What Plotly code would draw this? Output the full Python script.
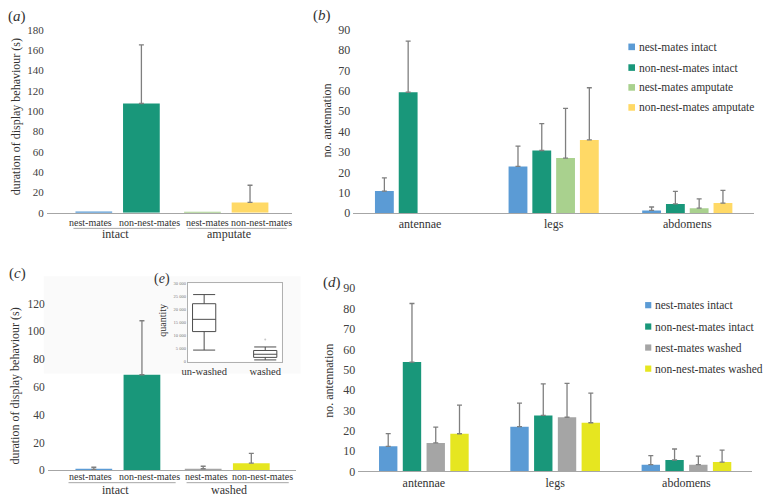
import plotly.graph_objects as go

W, H = 764, 503


def px(x):
    return x / W


def py(y):
    return 1 - y / H


FONT = "Liberation Serif"
TXT = "#333333"
TICK = "#404040"
AXLINE = "#a6a6a6"
ERRC = "#7f7f7f"

# ---------------- data ----------------
# (a) duration of display behaviour, intact vs amputate
a_groups = ["intact", "amputate"]
a_series = ["nest-mates", "non-nest-mates"]
a_nest_mean = [1.4, 0.9]
a_nest_err = [0.0, 0.0]
a_non_mean = [107.4, 10.2]
a_non_err = [57.6, 16.9]
a_yticks = [0, 20, 40, 60, 80, 100, 120, 140, 160, 180]

# (c) duration of display behaviour, intact vs washed
c_groups = ["intact", "washed"]
c_series = ["nest-mates", "non-nest-mates"]
c_nest_mean = [0.8, 1.2]
c_nest_err = [1.5, 1.8]
c_non_mean = [68.8, 5.2]
c_non_err = [38.8, 7.0]
c_yticks = [0, 20, 40, 60, 80, 100, 120]

# (b) number of antennation, intact vs amputate
parts = ["antennae", "legs", "abdomens"]
b_names = ["nest-mates intact", "non-nest-mates intact",
           "nest-mates amputate", "non-nest-mates amputate"]
b_nm_intact = [10.8, 22.9, 1.3]
b_nm_intact_err = [6.5, 10.0, 1.7]
b_nnm_intact = [59.3, 30.7, 4.5]
b_nnm_intact_err = [25.1, 13.2, 6.2]
b_nm_amput = [None, 27.0, 2.4]
b_nm_amput_err = [0, 24.4, 4.6]
b_nnm_amput = [None, 35.9, 4.9]
b_nnm_amput_err = [0, 25.6, 6.2]
bd_yticks = [0, 10, 20, 30, 40, 50, 60, 70, 80, 90]

# (d) number of antennation, intact vs washed
d_names = ["nest-mates intact", "non-nest-mates intact",
           "nest-mates washed", "non-nest-mates washed"]
d_nm_intact = [12.3, 22.0, 3.3]
d_nm_intact_err = [6.3, 11.6, 4.5]
d_nnm_intact = [53.7, 27.5, 5.6]
d_nnm_intact_err = [28.8, 15.5, 5.4]
d_nm_washed = [14.0, 26.6, 3.3]
d_nm_washed_err = [7.8, 16.7, 4.2]
d_nnm_washed = [18.5, 23.9, 4.6]
d_nnm_washed_err = [14.1, 14.6, 5.9]

# (e) quantity, box plot statistics
e_groups = ["un-washed", "washed"]
e_low = [4400, 630]
e_q1 = [11500, 1600]
e_median = [16200, 2800]
e_q3 = [22200, 4250]
e_high = [25700, 5600]
e_outlier_x = ["washed"]
e_outlier_y = [8500]
e_yticks = [0, 5000, 10000, 15000, 20000, 25000, 30000]
e_yticklabels = ["0", "5 000", "10 000", "15 000", "20 000", "25 000", "30 000"]

# ---------------- styles ----------------
BLUE = "#5b9bd5"
GREEN = "#19977a"
LGREEN = "#a9d18e"
YELLOW = "#ffd966"
GRAY = "#a5a5a5"
YELLOW2 = "#e6e620"

fig = go.Figure()


def add_bars(x, means, errs, colors, n_idx, n_tot, slot, width, xa, ya, name):
    center = (n_idx - (n_tot - 1) / 2) * slot
    fig.add_trace(go.Bar(
        x=x, y=means, name=name, showlegend=False,
        marker=dict(color=colors, line=dict(width=0)),
        offset=center - width / 2, width=width,
        error_y=dict(type="data", array=errs, arrayminus=[0] * len(errs),
                     symmetric=False, color=ERRC, thickness=1.3, width=2.5,
                     visible=any((e or 0) > 0 for e in errs)),
        xaxis=xa, yaxis=ya,
    ))


# (a)
add_bars(a_groups, a_nest_mean, a_nest_err, [BLUE, LGREEN], 0, 2, 0.438, 0.338, "x", "y", a_series[0])
add_bars(a_groups, a_non_mean, a_non_err, [GREEN, YELLOW], 1, 2, 0.438, 0.338, "x", "y", a_series[1])

# (b)
b_means = [b_nm_intact, b_nnm_intact, b_nm_amput, b_nnm_amput]
b_errs = [b_nm_intact_err, b_nnm_intact_err, b_nm_amput_err, b_nnm_amput_err]
b_colors = [BLUE, GREEN, LGREEN, YELLOW]
for i in range(4):
    add_bars(parts, b_means[i], b_errs[i], b_colors[i], i, 4, 0.178, 0.141, "x2", "y2", b_names[i])

# (c)
add_bars(c_groups, c_nest_mean, c_nest_err, [BLUE, GRAY], 0, 2, 0.44, 0.336, "x3", "y3", c_series[0])
add_bars(c_groups, c_non_mean, c_non_err, [GREEN, YELLOW2], 1, 2, 0.44, 0.336, "x3", "y3", c_series[1])

# (d)
d_means = [d_nm_intact, d_nnm_intact, d_nm_washed, d_nnm_washed]
d_errs = [d_nm_intact_err, d_nnm_intact_err, d_nm_washed_err, d_nnm_washed_err]
d_colors = [BLUE, GREEN, GRAY, YELLOW2]
for i in range(4):
    add_bars(parts, d_means[i], d_errs[i], d_colors[i], i, 4, 0.181, 0.14, "x4", "y4", d_names[i])

# (e) inset box plot
fig.add_trace(go.Box(
    x=e_groups, q1=e_q1, median=e_median, q3=e_q3,
    lowerfence=e_low, upperfence=e_high,
    width=0.38, whiskerwidth=0.95, boxpoints=False,
    line=dict(color="#4d4d4d", width=1), fillcolor="rgba(255,255,255,0)",
    showlegend=False, xaxis="x5", yaxis="y5",
))
fig.add_trace(go.Scatter(
    x=e_outlier_x, y=e_outlier_y, mode="markers",
    marker=dict(color="#c8c8c8", size=2), showlegend=False,
    xaxis="x5", yaxis="y5",
))


def yax(domain, rng, ticks, size, anchor):
    return dict(domain=domain, range=rng, tickvals=ticks, anchor=anchor, showgrid=False,
                zeroline=False, showline=False, ticks="", fixedrange=True,
                ticklabelstandoff=2,
                tickfont=dict(family=FONT, size=size, color=TICK))


def xax(domain, rng, anchor, showlabels, size=12):
    return dict(domain=domain, range=rng, type="category", anchor=anchor,
                showgrid=False, zeroline=False, showline=True, linecolor=AXLINE,
                linewidth=1, ticks="", showticklabels=showlabels, fixedrange=True,
                tickfont=dict(family=FONT, size=size, color=TXT))


layout = dict(
    width=W, height=H, autosize=False,
    margin=dict(l=0, r=0, t=0, b=0),
    paper_bgcolor="white", plot_bgcolor="rgba(0,0,0,0)",
    barmode="overlay", showlegend=False,
    font=dict(family=FONT, color=TXT),
    xaxis=xax([px(41), px(288)], [-0.653, 1.603], "y", False),
    yaxis=yax([py(211.7), py(23.3)], [0, 180], a_yticks, 11, "x"),
    xaxis2=xax([px(350), px(754)], [-0.5, 2.5], "y2", True, 12),
    yaxis2=yax([py(212), py(23.3)], [0, 90], bd_yticks, 12, "x2"),
    xaxis3=xax([px(42), px(292)], [-0.642, 1.626], "y3", False),
    yaxis3=yax([py(476.7), py(276.4)], [0, 140], c_yticks, 11.5, "x3"),
    xaxis4=xax([px(355), px(752)], [-0.5, 2.5], "y4", True, 12),
    yaxis4=yax([py(477.7), py(289.3)], [0, 90], bd_yticks, 12, "x4"),
    xaxis5=dict(domain=[px(183.3), px(277.7)], type="category", anchor="y5",
                showgrid=False, zeroline=False, showline=True, mirror=True,
                linecolor="#b0b0b0", linewidth=1, ticks="", fixedrange=True,
                tickfont=dict(family=FONT, size=10.5, color=TXT)),
    yaxis5=dict(domain=[py(364.7), py(284.3)], range=[0, 30000], anchor="x5",
                tickvals=e_yticks, ticktext=e_yticklabels,
                showgrid=False, zeroline=False, showline=True, mirror=True,
                linecolor="#b0b0b0", linewidth=1, ticks="", fixedrange=True,
                tickfont=dict(family=FONT, size=4.5, color="#777777")),
)
fig.update_layout(**layout)

shapes = []
# inset background
shapes.append(dict(type="rect", xref="paper", yref="paper", x0=px(38), x1=px(297),
                   y0=py(377), y1=py(277), fillcolor="#fafafa", line=dict(width=0),
                   layer="below"))
shapes.append(dict(type="rect", xref="paper", yref="paper", x0=px(183.3), x1=px(277.7),
                   y0=py(364.7), y1=py(284.3), fillcolor="white", line=dict(width=0),
                   layer="below"))


def line(x0, x1, y):
    shapes.append(dict(type="line", xref="paper", yref="paper", x0=px(x0), x1=px(x1),
                       y0=py(y), y1=py(y), line=dict(color=AXLINE, width=1)))


line(68, 171, 227.7)
line(183, 283, 227.7)
line(63, 171, 489.3)
line(182, 285, 489.3)

anns = []


def ann(text, x, y, size, angle=0, xanchor="center", color=TXT):
    anns.append(dict(text=text, x=px(x), y=py(y), xref="paper", yref="paper",
                     showarrow=False, textangle=angle, xanchor=xanchor, yanchor="middle",
                     borderpad=0,
                     font=dict(family=FONT, size=size, color=color)))


# panel letters
ann("(<i>a</i>)", 11, 9.3, 15)
ann("(<i>b</i>)", 318.5, 8.3, 15)
ann("(<i>c</i>)", 11.5, 274, 15)
ann("(<i>d</i>)", 329, 283.3, 15)
ann("(<i>e</i>)", 157.5, 279.3, 14)

# axis titles
ann("duration of display behaviour (s)", 9.5, 113, 12, -90)
ann("duration of display behaviour (s)", 9.5, 390, 12, -90)
ann("no. antennation", 323.3, 117, 12, -90)
ann("no. antennation", 326, 384, 12, -90)
ann("quantity", 157, 322, 10, -90)

# two-level category labels for (a) and (c)
a_sub_x = [85, 145, 203, 258]
c_sub_x = [85, 145, 202, 259]
for k, g in enumerate(a_groups):
    for j, s in enumerate(a_series):
        ann(s, a_sub_x[2 * k + j], 221.7, 10)
ann(a_groups[0], 110, 234, 12)
ann(a_groups[1], 225, 234, 12)
for k, g in enumerate(c_groups):
    for j, s in enumerate(c_series):
        ann(s, c_sub_x[2 * k + j], 483, 10)
ann(c_groups[0], 110, 496.5, 12)
ann(c_groups[1], 225, 496.5, 12)

# legends for (b) and (d)
b_rows = [41, 62.3, 82.7, 103.3]
for i, nm in enumerate(b_names):
    shapes.append(dict(type="rect", xref="paper", yref="paper",
                       x0=px(627.3), x1=px(634), y0=py(b_rows[i] + 3.4), y1=py(b_rows[i] - 3.4),
                       fillcolor=b_colors[i], line=dict(width=0)))
    ann(nm, 636.5, b_rows[i], 11.5, xanchor="left")
d_rows = [306.7, 328.7, 350.3, 372]
for i, nm in enumerate(d_names):
    shapes.append(dict(type="rect", xref="paper", yref="paper",
                       x0=px(644.2), x1=px(650.4), y0=py(d_rows[i] + 3.2), y1=py(d_rows[i] - 3.2),
                       fillcolor=d_colors[i], line=dict(width=0)))
    ann(nm, 653, d_rows[i], 11.5, xanchor="left")

fig.update_layout(shapes=shapes, annotations=anns)
fig.write_html(
    "out.html",
    config={"displayModeBar": False},
    post_script="document.body.style.margin='0';document.body.style.overflow='hidden';",
)
